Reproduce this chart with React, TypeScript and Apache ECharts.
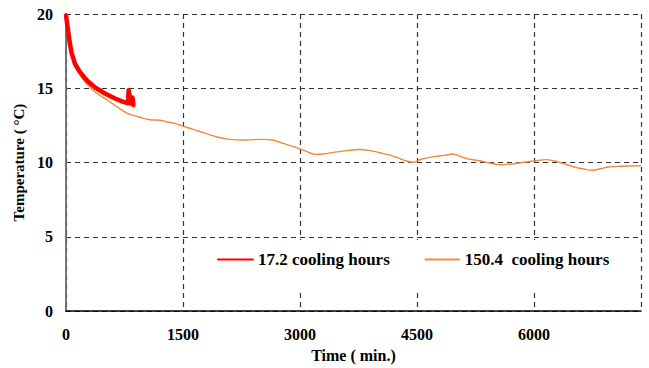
import React, { useEffect, useRef } from "react";
import * as echarts from "echarts";

const xTicks = [0, 1500, 3000, 4500, 6000];
const yTicks = [0, 5, 10, 15, 20];

const redName = "17.2 cooling hours";
const orangeName = "150.4  cooling hours";

// 17.2 cooling hours: [time (min), temperature (°C)]
const redTime = [0, 8, 16, 30, 47, 73, 115, 180, 265, 372, 500, 628, 735, 790, 797, 803, 812, 825, 840, 851, 858, 864];
const redTemp = [19.9, 19.6, 19.3, 18.75, 18.1, 17.35, 16.65, 16.09, 15.54, 15.05, 14.65, 14.31, 14.09, 14.0, 14.3, 14.87, 14.6, 13.98, 14.0, 14.38, 14.2, 13.87];

// 150.4 cooling hours
const orangeTime = [0, 8, 16, 30, 47, 73, 115, 180, 265, 372, 500, 600, 700, 780, 850, 945, 1073, 1200, 1287, 1400, 1500, 1650, 1800, 1950, 2100, 2300, 2500, 2650, 2750, 2900, 3050, 3200, 3300, 3450, 3600, 3750, 3900, 4050, 4200, 4350, 4450, 4550, 4700, 4850, 4960, 5050, 5150, 5300, 5450, 5560, 5700, 5850, 6000, 6150, 6250, 6350, 6500, 6650, 6750, 6850, 6950, 7100, 7250, 7370];
const orangeTemp = [19.8, 19.45, 19.1, 18.55, 17.9, 17.15, 16.45, 15.88, 15.3, 14.75, 14.3, 13.95, 13.6, 13.32, 13.2, 13.05, 12.88, 12.85, 12.75, 12.62, 12.45, 12.2, 11.95, 11.7, 11.56, 11.52, 11.56, 11.52, 11.35, 11.1, 10.82, 10.55, 10.58, 10.7, 10.8, 10.88, 10.8, 10.62, 10.42, 10.12, 10.02, 10.22, 10.38, 10.48, 10.58, 10.42, 10.25, 10.12, 9.95, 9.85, 9.9, 10.0, 10.1, 10.2, 10.12, 9.98, 9.72, 9.55, 9.48, 9.58, 9.7, 9.75, 9.77, 9.78];

const FONT = "'Liberation Serif', 'Times New Roman', serif";

export default function App() {
  const ref = useRef<HTMLDivElement>(null);
  useEffect(() => {
    const chart = echarts.init(ref.current!, undefined, { renderer: "svg" });
    const dash = { color: "#333", width: 1.2, type: [5, 4] as number[] };
    chart.setOption({
      animation: false,
      backgroundColor: "#fff",
      grid: { left: 66, right: 8, top: 14, bottom: 55.5, containLabel: false },
      legend: {
        left: 188,
        top: 240,
        backgroundColor: "#fff",
        padding: [11, 28, 23, 29],
        itemWidth: 35,
        itemHeight: 14,
        itemGap: 34,
        itemStyle: { opacity: 0 },
        textStyle: { fontFamily: FONT, fontWeight: "bold", fontSize: 17, color: "#000" },
        data: [redName, orangeName],
      },
      xAxis: {
        type: "value",
        min: 0,
        max: 7370,
        interval: 1500,
        name: "Time ( min.)",
        nameLocation: "middle",
        nameGap: 33,
        nameTextStyle: { fontFamily: FONT, fontWeight: "bold", fontSize: 16, color: "#000" },
        axisLine: { show: true, onZero: false, lineStyle: { color: "#000", width: 1.5 } },
        axisTick: { show: false },
        axisLabel: {
          margin: 15,
          fontFamily: FONT,
          fontWeight: "bold",
          fontSize: 16,
          color: "#000",
          formatter: (v: number) => (xTicks.includes(v) ? String(v) : ""),
        },
        splitLine: { show: true, lineStyle: dash },
      },
      yAxis: [
        {
          type: "value",
          min: 0,
          max: 20,
          interval: 5,
          name: "Temperature ( °C)",
          nameLocation: "middle",
          nameGap: 40,
          nameTextStyle: { fontFamily: FONT, fontWeight: "bold", fontSize: 15, color: "#000" },
          axisLine: { show: true, onZero: false, lineStyle: { color: "#000", width: 1.5 } },
          axisTick: { show: false },
          axisLabel: {
            margin: 13,
            fontFamily: FONT,
            fontWeight: "bold",
            fontSize: 16,
            color: "#000",
            formatter: (v: number) => (yTicks.includes(v) ? String(v) : ""),
          },
          splitLine: { show: true, lineStyle: dash },
        },
        {
          type: "value",
          position: "right",
          min: 0,
          max: 20,
          axisLine: { show: true, lineStyle: { color: "#888", width: 1.5 } },
          axisTick: { show: false },
          axisLabel: { show: false },
          splitLine: { show: false },
        },
      ],
      series: [
        {
          name: orangeName,
          type: "line",
          symbol: "none",
          smooth: 0.3,
          lineStyle: { color: "#F08A3C", width: 1.4 },
          itemStyle: { color: "#F08A3C" },
          data: orangeTime.map((t, i) => [t, orangeTemp[i]]),
          z: 3,
        },
        {
          name: redName,
          type: "line",
          symbol: "none",
          smooth: false,
          lineStyle: { color: "#FF0000", width: 4.5, join: "round", cap: "round" },
          itemStyle: { color: "#FF0000" },
          data: redTime.map((t, i) => [t, redTemp[i]]),
          z: 4,
        },
      ],
    });
    return () => chart.dispose();
  }, []);
  return (
    <div
      ref={ref}
      style={{ position: "fixed", left: 0, top: 0, width: 649, height: 368 }}
    />
  );
}
